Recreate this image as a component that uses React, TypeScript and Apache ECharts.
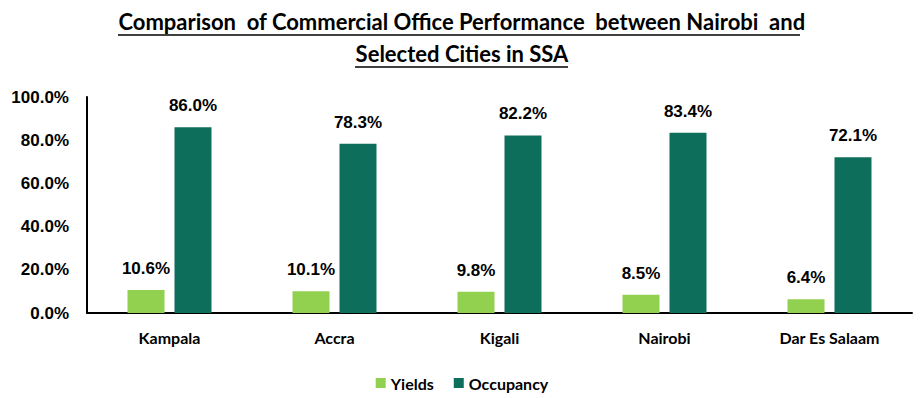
import React, { useEffect, useRef } from "react";
import * as echarts from "echarts";

const categories = ["Kampala", "Accra", "Kigali", "Nairobi", "Dar Es Salaam"];
const yields = [10.6, 10.1, 9.8, 8.5, 6.4];
const occupancy = [86.0, 78.3, 82.2, 83.4, 72.1];
const titleLines = [
  "Comparison  of Commercial Office Performance  between Nairobi  and",
  "Selected Cities in SSA",
];

export default function App() {
  const ref = useRef<HTMLDivElement>(null);
  useEffect(() => {
    if (!ref.current) return;
    const chart = echarts.init(ref.current, null, { renderer: "svg" });
    const labelStyle = {
      show: true,
      position: "top" as const,
      distance: 13,
      fontFamily: "Liberation Sans, Arial, sans-serif",
      fontWeight: "bold" as const,
      fontSize: 17,
      color: "#000",
      formatter: (p: any) => p.value.toFixed(1) + "%",
    };
    chart.setOption({
      animation: false,
      backgroundColor: "#fff",
      graphic: [
        {
          type: "text",
          left: "center",
          top: 10,
          style: {
            text: titleLines[0],
            fontFamily: "Lato, sans-serif",
            fontWeight: "bold",
            fontSize: 22,
            fill: "#000",
          },
        },
        {
          type: "text",
          left: "center",
          top: 42,
          style: {
            text: titleLines[1],
            fontFamily: "Lato, sans-serif",
            fontWeight: "bold",
            fontSize: 22,
            fill: "#000",
          },
        },
        { type: "line", shape: { x1: 118, y1: 35, x2: 800, y2: 35 }, style: { stroke: "#000", lineWidth: 1.5 } },
        { type: "line", shape: { x1: 355, y1: 67, x2: 568, y2: 67 }, style: { stroke: "#000", lineWidth: 1.5 } },
      ],
      legend: {
        top: 370,
        left: "center",
        itemWidth: 10,
        itemHeight: 10,
        itemGap: 20,
        icon: "rect",
        textStyle: {
          fontFamily: "Lato, sans-serif",
          fontWeight: "bold",
          fontSize: 16,
          color: "#000",
        },
        data: ["Yields", "Occupancy"],
      },
      grid: { left: 87, right: 12, top: 97, bottom: 85, containLabel: false },
      xAxis: {
        type: "category",
        data: categories,
        axisLine: { lineStyle: { color: "#000", width: 2 } },
        axisTick: { show: false },
        axisLabel: {
          margin: 16,
          fontFamily: "Lato, sans-serif",
          fontWeight: "bold",
          fontSize: 16,
          color: "#000",
        },
      },
      yAxis: {
        type: "value",
        min: 0,
        max: 100,
        interval: 20,
        splitLine: { show: false },
        axisLine: { show: true, lineStyle: { color: "#000", width: 2 } },
        axisTick: { show: false },
        axisLabel: {
          margin: 18,
          fontFamily: "Liberation Sans, Arial, sans-serif",
          fontWeight: "bold",
          fontSize: 17,
          color: "#000",
          formatter: (v: number) => v.toFixed(1) + "%",
        },
      },
      series: [
        {
          name: "Yields",
          type: "bar",
          data: yields,
          barWidth: 37,
          barGap: "27%",
          itemStyle: { color: "#92D050" },
          label: labelStyle,
        },
        {
          name: "Occupancy",
          type: "bar",
          data: occupancy,
          barWidth: 37,
          itemStyle: { color: "#0E6E5C" },
          label: labelStyle,
        },
      ],
    });
    return () => chart.dispose();
  }, []);
  return (
    <div
      ref={ref}
      style={{ position: "fixed", left: 0, top: 0, width: 924, height: 398 }}
    />
  );
}
